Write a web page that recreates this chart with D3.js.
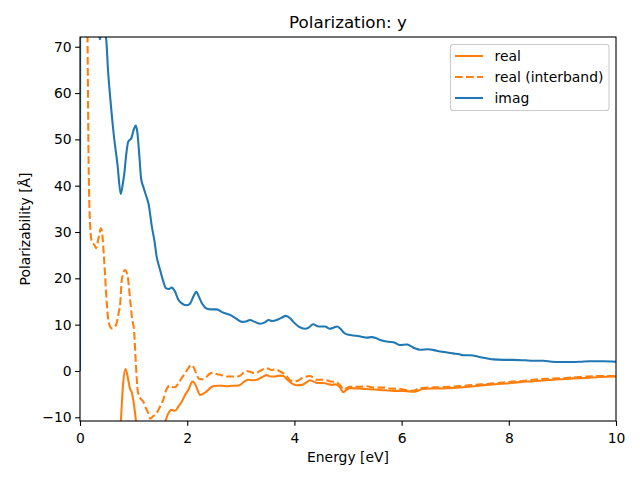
<!DOCTYPE html>
<html><head><meta charset="utf-8">
<script src="https://d3js.org/d3.v7.min.js"></script>
<style>body{margin:0;background:#fff}svg{display:block;font-family:"DejaVu Sans",sans-serif}</style>
</head><body><svg id="c" width="640" height="480"></svg>
<script>
const xTicks=[0,2,4,6,8,10];
const yTicks=[-10,0,10,20,30,40,50,60,70];
const seriesNames=["real","real (interband)","imag"];

const imagX=[0,0.02,0.1,0.2,0.3,0.37,0.42,0.47,0.49,0.52,0.57,0.63,0.70,0.76,0.80,0.83,0.86,0.90,0.96,1.00,1.04,1.07,1.11,1.14,1.18,1.24,1.28,1.34,1.39,1.43,1.49,1.55,1.60,1.66,1.71,1.77,1.83,1.90,1.98,2.05,2.12,2.17,2.22,2.28,2.36,2.45,2.55,2.65,2.80,2.90,3.02,3.10,3.17,3.26,3.36,3.45,3.52,3.58,3.67,3.76,3.84,3.92,3.98,4.08,4.20,4.26,4.35,4.45,4.57,4.66,4.74,4.80,4.86,4.93,5.01,5.16,5.25,5.35,5.44,5.52,5.60,5.75,5.85,5.97,6.10,6.18,6.25,6.34,6.50,6.60,6.72,6.85,6.96,7.08,7.15,7.28,7.46,7.60,7.71,7.90,8.08,8.30,8.46,8.64,8.80,8.96,9.15,9.33,9.51,9.75,10.0];
const imagY=[0,400,200,120,80,71.6,74,72.5,71.5,65.4,58.2,51.0,44.5,38.2,40.5,43.0,46.5,49.5,50.3,52,53.0,51.5,46,41.5,39.8,37.6,36,31.2,28,24.7,22,19.5,17.9,17.7,18.0,17.2,15.5,14.6,14.2,14.5,16.2,17.1,16.0,14.5,13.5,13.3,13.3,12.7,12.1,11.4,10.6,10.7,11.0,10.6,10.2,10.5,11.0,10.8,11.0,11.5,11.9,11.4,10.6,9.6,9.1,9.3,10.1,9.6,9.6,9.1,9.4,9.6,9.1,8.2,7.8,7.6,7.4,7.2,7.3,7.1,6.7,6.3,6.2,5.6,5.7,5.3,4.9,4.6,4.7,4.5,4.2,4.0,3.8,3.6,3.4,3.4,3.0,2.7,2.5,2.4,2.4,2.3,2.2,2.2,2.0,1.95,1.95,2.0,2.1,2.1,2.0];

const interX=[0.02,0.08,0.12,0.14,0.15,0.16,0.17,0.19,0.22,0.27,0.30,0.35,0.39,0.41,0.45,0.50,0.53,0.59,0.67,0.72,0.75,0.78,0.84,0.89,0.93,0.97,1.01,1.04,1.08,1.12,1.18,1.22,1.27,1.31,1.36,1.42,1.48,1.55,1.62,1.68,1.74,1.77,1.84,1.90,1.96,2.02,2.08,2.12,2.16,2.22,2.28,2.34,2.42,2.48,2.56,2.64,2.75,2.83,2.92,2.99,3.06,3.11,3.18,3.26,3.36,3.44,3.48,3.58,3.64,3.70,3.79,3.86,3.92,3.98,4.04,4.12,4.20,4.29,4.36,4.42,4.54,4.66,4.75,4.82,4.87,4.91,4.96,5.04,5.20,5.35,5.50,5.66,5.80,5.97,6.10,6.22,6.34,6.50,6.72,6.90,7.15,7.35,7.59,7.80,7.96,8.20,8.46,8.70,8.96,9.20,9.45,9.70,10.0];
const interY=[500,200,100,72,58.2,45.5,38.4,31.2,27.9,27.2,26.5,29.0,30.8,30.1,24.0,14.6,10.8,9.2,9.9,12.5,14.6,19.7,21.8,20.4,16,11.5,8.5,2,-4.5,-5.8,-6.6,-7.8,-9,-10.3,-9.8,-9.3,-8.0,-6.3,-3.8,-3.1,-3.5,-3.5,-2.6,-1.5,-0.5,0.6,1.3,0.8,-0.3,-1.7,-1.8,-1.5,-0.6,-0.4,-0.7,-0.9,-1.2,-1.2,-1.2,-1.0,-0.3,0.0,-0.2,-0.5,0.0,0.5,0.6,0.2,0.4,0.1,-0.5,-1.2,-2.0,-2.2,-2.2,-1.7,-1.3,-1.1,-1.5,-1.9,-1.9,-2.2,-2.4,-2.7,-3.3,-4.0,-3.8,-3.4,-3.4,-3.3,-3.6,-3.6,-3.8,-3.9,-4.1,-4.3,-3.7,-3.6,-3.5,-3.4,-3.2,-3.0,-2.8,-2.6,-2.4,-2.2,-1.9,-1.7,-1.6,-1.4,-1.2,-1.1,-1.1];

const realX=[0.70,0.76,0.80,0.85,0.90,0.93,0.97,1.02,1.05,1.10,1.30,1.50,1.59,1.65,1.71,1.77,1.84,1.90,1.96,2.02,2.10,2.14,2.18,2.24,2.33,2.40,2.46,2.55,2.64,2.75,2.83,2.92,2.99,3.06,3.14,3.22,3.30,3.40,3.48,3.56,3.64,3.72,3.79,3.87,3.95,4.04,4.14,4.22,4.29,4.36,4.42,4.54,4.62,4.69,4.76,4.82,4.87,4.91,4.96,5.04,5.20,5.35,5.50,5.60,5.75,5.91,6.05,6.22,6.32,6.40,6.55,6.72,6.90,7.15,7.35,7.59,7.80,7.96,8.20,8.46,8.70,8.96,9.20,9.45,9.70,10.0];
const realY=[-25,-11.5,-3.4,0.4,-1.9,-3.7,-4.8,-8.4,-11.5,-20,-20,-15,-11,-9.1,-8.4,-8.6,-7.6,-6.6,-5.2,-4.1,-2.3,-2.7,-3.7,-5.2,-4.7,-4.0,-3.4,-3.2,-3.2,-3.3,-3.2,-3.2,-3.0,-2.3,-1.9,-2.0,-1.9,-1.3,-0.9,-1.2,-1.2,-1.0,-1.1,-1.9,-2.7,-3.1,-3.0,-2.5,-2.0,-2.3,-2.6,-2.6,-2.8,-3.0,-2.9,-3.2,-3.9,-4.6,-4.2,-3.7,-3.8,-3.9,-4.0,-4.1,-4.2,-4.3,-4.3,-4.5,-4.2,-3.9,-3.8,-3.8,-3.7,-3.5,-3.3,-3.0,-2.8,-2.7,-2.4,-2.2,-2.0,-1.8,-1.6,-1.5,-1.3,-1.2];

const svg=d3.select("#c");
const L=80,R=616,T=37,B=421;
const x=d3.scaleLinear().domain([0,10]).range([L,R]);
const y=d3.scaleLinear().domain([-10.8,72.1]).range([B,T]);
const orange="#ff7f0e",blue="#1f77b4";

svg.append("defs").append("clipPath").attr("id","clip").append("rect")
  .attr("x",L).attr("y",T).attr("width",R-L).attr("height",B-T);

const line=d3.line().x(d=>x(d[0])).y(d=>y(d[1])).curve(d3.curveMonotoneX);
const g=svg.append("g").attr("clip-path","url(#clip)");
const series=[
  {xs:realX,ys:realY,color:orange,dash:null},
  {xs:interX,ys:interY,color:orange,dash:"7.7,3.3"},
  {xs:imagX,ys:imagY,color:blue,dash:null}
];
series.forEach(s=>{
  g.append("path").datum(s.xs.map((v,i)=>[v,s.ys[i]]))
   .attr("d",line).attr("fill","none").attr("stroke",s.color)
   .attr("stroke-width",2.08).attr("stroke-linejoin","round")
   .attr("stroke-dasharray",s.dash);
});

// axes
const xa=svg.append("g").attr("transform",`translate(0,${B})`)
  .call(d3.axisBottom(x).tickValues(xTicks).tickFormat(d3.format("d")).tickSizeInner(4.86).tickSizeOuter(0).tickPadding(3.5));
const ya=svg.append("g").attr("transform",`translate(${L},0)`)
  .call(d3.axisLeft(y).tickValues(yTicks).tickFormat(d3.format("d")).tickSizeInner(4.86).tickSizeOuter(0).tickPadding(3.5));
[xa,ya].forEach(a=>{
  a.select(".domain").remove();
  a.selectAll(".tick line").attr("stroke","#000").attr("stroke-width",1.1);
  a.selectAll(".tick text").attr("fill","#000").style("font-family","DejaVu Sans").style("font-size","13.9px");
});
xa.selectAll(".tick text").attr("dy","0.95em");

svg.append("rect").attr("x",L).attr("y",T).attr("width",R-L).attr("height",B-T)
  .attr("fill","none").attr("stroke","#000").attr("stroke-width",1.1);

svg.append("text").attr("x",(L+R)/2).attr("y",28).attr("text-anchor","middle")
  .style("font-size","16.7px").text("Polarization: y");
svg.append("text").attr("x",(L+R)/2).attr("y",462).attr("text-anchor","middle")
  .style("font-size","13.9px").text("Energy [eV]");
svg.append("text").attr("transform",`translate(30,${(T+B)/2}) rotate(-90)`).attr("text-anchor","middle")
  .style("font-size","13.9px").text("Polarizability [Å]");

// legend
const lg=svg.append("g");
lg.append("rect").attr("x",450.5).attr("y",44.5).attr("width",158.5).attr("height",66)
  .attr("rx",2.8).attr("fill","#fff").attr("fill-opacity",0.8).attr("stroke","#cccccc").attr("stroke-width",1.1);
const legItems=[series[0],series[1],series[2]];
legItems.forEach((s,i)=>{
  const cy=56+i*21;
  lg.append("line").attr("x1",455).attr("x2",483).attr("y1",cy).attr("y2",cy)
    .attr("stroke",s.color).attr("stroke-width",2.08).attr("stroke-dasharray",s.dash);
  lg.append("text").attr("x",494.5).attr("y",cy+5).style("font-size","13.9px").text(seriesNames[i]);
});
</script></body></html>
